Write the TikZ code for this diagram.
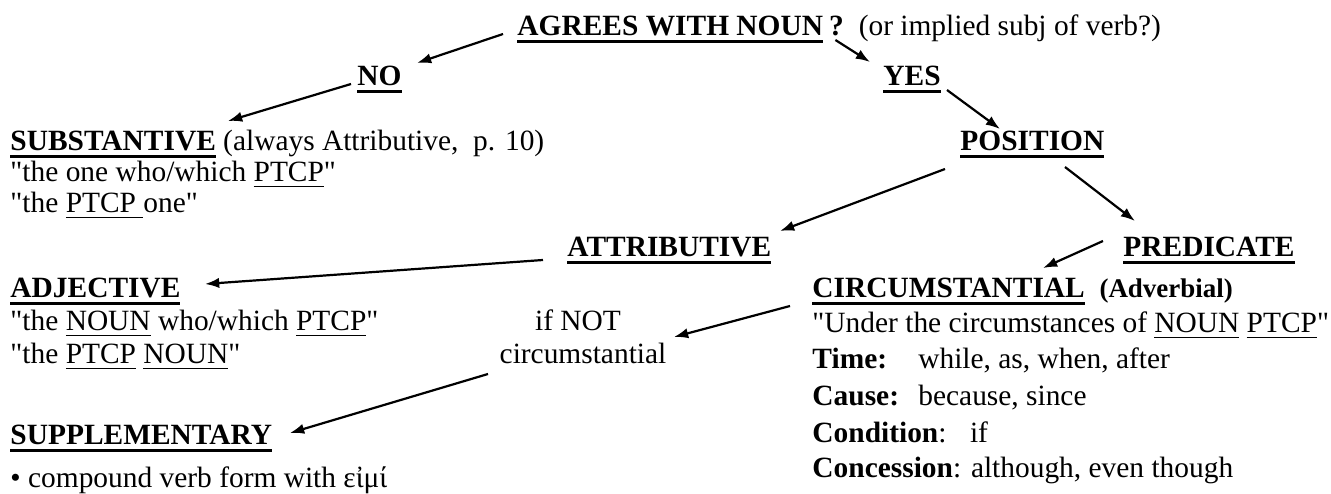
\documentclass[tikz,border=0pt]{standalone}
\usepackage{fontspec}
\setmainfont{Liberation Serif}[Ligatures=TeXOff, BoldFont={Liberation Serif Bold}]
\usetikzlibrary{arrows.meta}
\tikzstyle{txt} = [inner sep=0pt, anchor=base west, font=\fontsize{12}{14}\selectfont]
\tikzstyle{branch} = [-{Latex[length=5.8pt,width=4.2pt]}, line width=0.9pt]
\newsavebox{\ulbox}
\newcommand{\undl}[2]{\sbox{\ulbox}{#2}\rlap{\rule[\dimexpr-1.6pt-#1\relax]{\wd\ulbox}{#1}}\usebox{\ulbox}}
\newcommand{\hd}[1]{\undl{1.1pt}{\textbf{#1}}}
\newcommand{\ulpt}[1]{\undl{0.6pt}{#1}}

\begin{document}
\begin{tikzpicture}[x=0.408pt, y=-0.408pt]
  \useasboundingbox (0,0) rectangle (1331,494);
  % question
  \node[txt] (agree) at (517,36) {\hd{AGREES WITH NOUN}};
  \node[txt] (qmark) at ([shift={(5,0)}]agree.base east) {\textbf{?}};
  \node[txt] (note) at ([shift={(14,0)}]qmark.base east) {(or implied subj of verb?)};
  \node[txt] (no) at (357,86) {\hd{NO}};
  \node[txt] (yes) at (883,86) {\hd{YES}};

  % left column
  \node[txt] (subst) at (10,151) {\hd{SUBSTANTIVE} (always Attributive,\ \ p. 10)};
  \node[txt] (substa) at (10,182) {"the one who/which \ulpt{PTCP}"};
  \node[txt] (substb) at (10,213) {"the \ulpt{PTCP\ }one"};
  \node[txt] (adj) at (10,298) {\hd{ADJECTIVE}};
  \node[txt] (adja) at (10,331) {"the \ulpt{NOUN} who/which \ulpt{PTCP}"};
  \node[txt] (adjb) at (10,364) {"the \ulpt{PTCP} \ulpt{NOUN}"};
  \node[txt] (supp) at (10,445) {\hd{SUPPLEMENTARY}};
  \node[txt] (cvf) at (10,488) {• compound verb form with εἰμί};

  % middle
  \node[txt] (position) at (960,151) {\hd{POSITION}};
  \node[txt] (attrib) at (567,257) {\hd{ATTRIBUTIVE}};
  \node[txt] (pred) at (1123,257) {\hd{PREDICATE}};
  \node[txt, anchor=base] (ifnot) at (578,331) {if NOT};
  \node[txt, anchor=base] (notcirc) at (583,364) {circumstantial};

  % right column
  \node[txt] (circ) at (812,298) {\hd{CIRCUMSTANTIAL}\ \ {\fontsize{11}{13}\selectfont\textbf{(Adverbial)}}};
  \node[txt] (under) at (812,333) {"Under the circumstances of \ulpt{NOUN} \ulpt{PTCP}"};
  \node[txt] (time) at (812,369) {\makebox[3.6em][l]{\textbf{Time:}}while, as, when, after};
  \node[txt] (cause) at (812,405) {\makebox[3.6em][l]{\textbf{Cause:}}because, since};
  \node[txt] (cond) at (812,442) {\textbf{Condition}:\hspace{0.8em}if};
  \node[txt] (conc) at (812,478) {\textbf{Concession}: although, even though};

  \draw[branch] ([shift={(-14,-2)}]agree.base west) -- ([shift={(60,-23)}]no.base west);
  \draw[branch] ([shift={(-6,-2)}]no.base west) -- ([shift={(218,-30)}]subst.base west);
  \draw[branch] ([shift={(-1,4)}]qmark.base) -- ([shift={(-13,-24)}]yes.base west);
  \draw[branch] ([shift={(64,4)}]yes.base west) -- ([shift={(40,-22)}]position.base west);
  \draw[branch] ([shift={(-15,18)}]position.base west) -- ([shift={(213,-26)}]attrib.base west);
  \draw[branch] ([shift={(105,16)}]position.base west) -- ([shift={(12,-36)}]pred.base west);
  \draw[branch] ([shift={(-20,-16)}]pred.base west) -- ([shift={(231,-30)}]circ.base west);
  \draw[branch] ([shift={(-24,3)}]attrib.base west) -- ([shift={(195,-14)}]adj.base west);
  \draw[branch] ([shift={(-22,8)}]circ.base west) -- ([shift={(96,6)}]ifnot.base);
  \draw[branch] ([shift={(-95,10)}]notcirc.base) -- ([shift={(280,-12)}]supp.base west);
\end{tikzpicture}
\end{document}
